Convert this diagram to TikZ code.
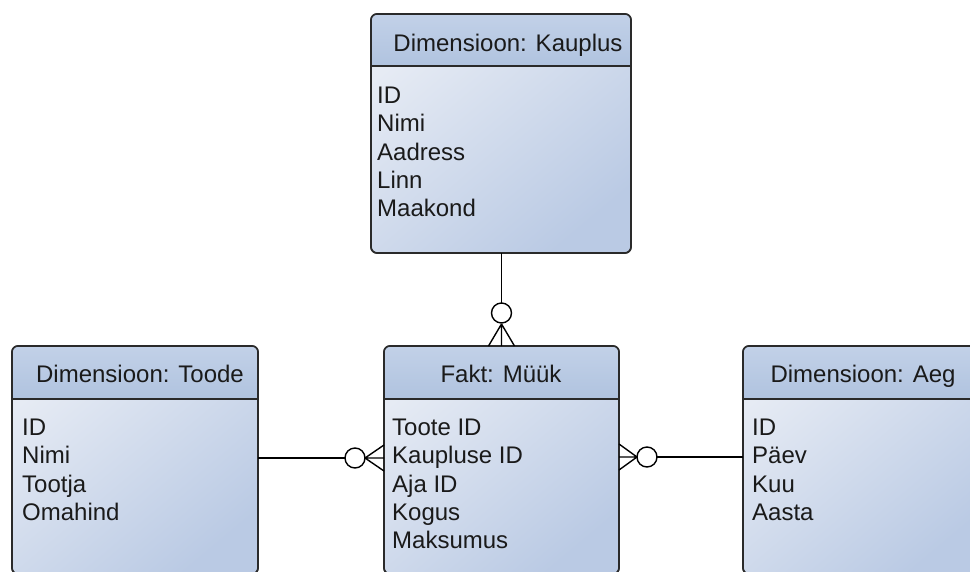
\documentclass[tikz,border=0pt]{standalone}
\usepackage{fontspec}
\setmainfont{Liberation Sans}
\usetikzlibrary{calc}

\definecolor{hdrtop}{HTML}{C2D1E8}
\definecolor{hdrbot}{HTML}{B0C3DF}
\definecolor{bodylight}{HTML}{E6EBF4}
\definecolor{bodydark}{HTML}{BACAE4}
\definecolor{edge}{HTML}{2A2A2A}
\definecolor{ink}{HTML}{1A1A1A}

\tikzset{
  x=1pt, y=-1pt,
  entity/.style={draw=edge, line width=1.6pt, rounded corners=6pt, anchor=north west,
    inner sep=0pt, outer sep=0pt, top color=bodylight, bottom color=bodydark,
    shading angle=40},
  frame/.style={draw=edge, line width=1.6pt, rounded corners=6pt},
  title/.style={anchor=base, text=ink, inner sep=0pt, font=\fontsize{24}{28}\selectfont},
  row/.style={anchor=base west, text=ink, inner sep=0pt, font=\fontsize{24}{28}\selectfont},
  link/.style={draw=black, line width=1.4pt},
  ring/.style={draw=black, line width=1.4pt, fill=white},
}

% header band, separator line and border of an entity box
\newcommand\entityhead[2]{%
  \begin{scope}
    \clip[rounded corners=6pt] (#1.north west) rectangle (#1.south east);
    \shade[top color=hdrtop, bottom color=hdrbot]
      (#1.north west) rectangle ($(#1.north east)+(0,#2)$);
  \end{scope}
  \draw[frame] ($(#1.north west)+(0,#2)$) -- ($(#1.north east)+(0,#2)$);
  \draw[frame] (#1.north west) rectangle (#1.south east);
}

\begin{document}
\begin{tikzpicture}
\useasboundingbox (0,0) rectangle (970,571);
\fill[white] (0,0) rectangle (970,571);
\clip (0,0) rectangle (970,571);

% entity boxes
\node[entity, minimum width=260pt, minimum height=239pt] (kauplus) at (371,14) {};
\node[entity, minimum width=246pt, minimum height=228pt] (toode) at (12,346) {};
\node[entity, minimum width=235pt, minimum height=228pt] (fakt) at (384,346) {};
\node[entity, minimum width=240pt, minimum height=228pt] (aeg) at (743,346) {};

\entityhead{kauplus}{52}
\entityhead{toode}{53}
\entityhead{fakt}{53}
\entityhead{aeg}{53}

% titles
\node[title] (kauplus-t) at (508,51) {Dimensioon: Kauplus};
\node[title] (toode-t) at (140,382) {Dimensioon: Toode};
\node[title] (fakt-t) at (501,382) {Fakt: Müük};
\node[title] (aeg-t) at (863,382) {Dimensioon: Aeg};

% attributes
\foreach \t [count=\i] in {ID,Nimi,Aadress,Linn,Maakond}
  \node[row] (kauplus-r\i) at (377,{103.5+28.3*(\i-1)}) {\t};
\foreach \t [count=\i] in {ID,Nimi,Tootja,Omahind}
  \node[row] (toode-r\i) at (22,{435.5+28.3*(\i-1)}) {\t};
\foreach \t [count=\i] in {Toote ID,Kaupluse ID,Aja ID,Kogus,Maksumus}
  \node[row] (fakt-r\i) at (392,{435.5+28.3*(\i-1)}) {\t};
\foreach \t [count=\i] in {ID,Päev,Kuu,Aasta}
  \node[row] (aeg-r\i) at (752,{435.5+28.3*(\i-1)}) {\t};

% Kauplus -- Fakt (zero or many at Fakt)
\coordinate (tA) at ($(fakt.north)+(0,-22)$);
\coordinate (tC) at ($(fakt.north)+(0,-33)$);
\draw[link] (fakt.north |- kauplus.south) -- ($(tC)+(0,-10)$);
\draw[link] (tA) -- (fakt.north)
  (tA) -- ($(fakt.north)+(-13,0)$)
  (tA) -- ($(fakt.north)+(13,0)$);
\draw[ring] (tC) circle[radius=10pt];

% Toode -- Fakt
\coordinate (fL) at (fakt.north west |- 0,458);
\coordinate (lA) at ($(fL)+(-19,0)$);
\coordinate (lC) at ($(fL)+(-29,0)$);
\draw[link] (toode.north east |- fL) -- ($(lC)+(-10,0)$);
\draw[link] (lA) -- (fL)
  (lA) -- ($(fL)+(0,-13)$)
  (lA) -- ($(fL)+(0,13)$);
\draw[ring] (lC) circle[radius=10pt];

% Aeg -- Fakt
\coordinate (fR) at (fakt.north east |- 0,457);
\coordinate (rA) at ($(fR)+(18,0)$);
\coordinate (rC) at ($(fR)+(28,0)$);
\draw[link] (aeg.north west |- fR) -- ($(rC)+(10,0)$);
\draw[link] (rA) -- (fR)
  (rA) -- ($(fR)+(0,-13)$)
  (rA) -- ($(fR)+(0,13)$);
\draw[ring] (rC) circle[radius=10pt];
\end{tikzpicture}
\end{document}
